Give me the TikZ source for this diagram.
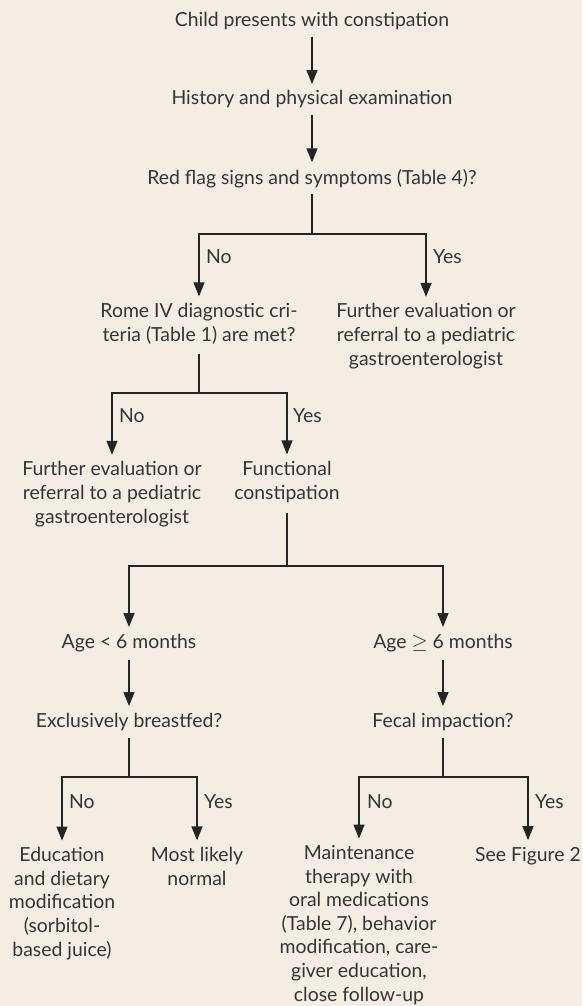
\documentclass[tikz,border=0pt]{standalone}
\usepackage{fontspec}
\setmainfont{Lato}
\usepackage{amssymb}
\usetikzlibrary{arrows.meta}
\definecolor{paper}{HTML}{F3EDE4}
\definecolor{ink}{HTML}{353535}

\begin{document}
\begin{tikzpicture}[x=1pt,y=-1pt,
        box/.style={font=\fontsize{19.4}{23.6}\selectfont,text=ink,align=center,inner sep=0pt,anchor=base},
        lbl/.style={font=\fontsize{19.4}{23.6}\selectfont,text=ink,inner sep=0pt,anchor=base west},
        link/.style={draw=ink!70!black,line width=1.3pt},
        arr/.style={link,-{Triangle[width=11pt,length=14pt]}}]
        \fill[paper] (0,0) rectangle (582,1006);
        \useasboundingbox (0,0) rectangle (582,1006);
        \node[box] (child) at (312,27) {Child presents with constipation};
        \node[box] (hist) at (312,105) {History and physical examination};
        \node[box] (red) at (312,184) {Red flag signs and symptoms (Table 4)?};
        \node[box] (rome) at (199,341) {Rome IV diagnostic cri-\\teria (Table 1) are met?};
        \node[box] (furA) at (426,365) {Further evaluation or\\referral to a pediatric\\gastroenterologist};
        \node[box] (furB) at (112,523) {Further evaluation or\\referral to a pediatric\\gastroenterologist};
        \node[box] (func) at (287,499) {Functional\\constipation};
        \node[box] (young) at (129,648) {Age < 6 months};
        \node[box] (old) at (443,648) {Age $\geq$ 6 months};
        \node[box] (breast) at (129,727) {Exclusively breastfed?};
        \node[box] (fecal) at (443,727) {Fecal impaction?};
        \node[box] (diet) at (62,956) {Education\\and dietary\\modification\\(sorbitol-\\based juice)};
        \node[box] (normal) at (197,885) {Most likely\\normal};
        \node[box] (maint) at (359,1001) {Maintenance\\therapy with\\oral medications\\(Table 7), behavior\\modification, care-\\giver education,\\close follow-up};
        \node[box] (fig) at (528,861) {See Figure 2};
        \coordinate (j1) at (312,234);
        \coordinate (j2) at (199,393);
        \coordinate (j3) at (287,566);
        \coordinate (j4) at (129,777);
        \coordinate (j5) at (443,777);
        \draw[arr] ([yshift=-6pt]child.south) -- ([yshift=6.5pt]hist.north);
        \draw[arr] ([yshift=-6pt]hist.south) -- ([yshift=6.5pt]red.north);
        \draw[link] ([yshift=-6pt]red.south) -- (j1);
        \draw[arr] (j1) -| ([yshift=6.5pt]rome.north);
        \draw[arr] (j1) -| ([yshift=6.5pt]furA.north);
        \draw[link] ([yshift=-10pt]rome.south) -- (j2);
        \draw[arr] (j2) -| ([yshift=6.5pt]furB.north);
        \draw[arr] (j2) -| ([yshift=6.5pt]func.north);
        \draw[link] ([yshift=-10pt]func.south) -- (j3);
        \draw[arr] (j3) -| ([yshift=6.5pt]young.north);
        \draw[arr] (j3) -| ([yshift=6.5pt]old.north);
        \draw[arr] ([yshift=-8pt]young.south) -- ([yshift=6.5pt]breast.north);
        \draw[arr] ([yshift=-8pt]old.south) -- ([yshift=6.5pt]fecal.north);
        \draw[link] ([yshift=-7pt]breast.south) -- (j4);
        \draw[arr] (j4) -| ([yshift=6.5pt]diet.north);
        \draw[arr] (j4) -| ([yshift=6.5pt]normal.north);
        \draw[link] ([yshift=-7pt]fecal.south) -- (j5);
        \draw[arr] (j5) -| ([yshift=6.5pt]maint.north);
        \draw[arr] (j5) -| ([yshift=6.5pt]fig.north);
        \node[lbl] (noA) at (206,263) {No};
        \node[lbl] (yesA) at (433,263) {Yes};
        \node[lbl] (noB) at (119,422) {No};
        \node[lbl] (yesB) at (293,422) {Yes};
        \node[lbl] (noC) at (69,808) {No};
        \node[lbl] (yesC) at (204,808) {Yes};
        \node[lbl] (noD) at (367,808) {No};
        \node[lbl] (yesD) at (535,808) {Yes};
    \end{tikzpicture}
\end{document}
